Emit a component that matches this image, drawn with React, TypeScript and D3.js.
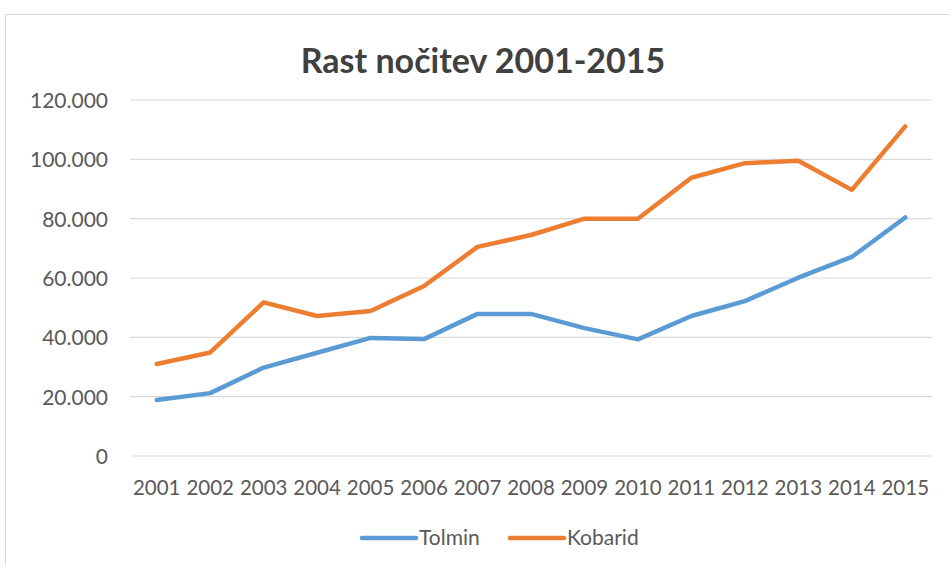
import React, { useEffect, useRef } from 'react';
import * as d3 from 'd3';

const years = ['2001', '2002', '2003', '2004', '2005', '2006', '2007', '2008', '2009', '2010', '2011', '2012', '2013', '2014', '2015'];
const tolmin = [18900, 21200, 29800, 34800, 39800, 39400, 47900, 47900, 43100, 39300, 47200, 52200, 60100, 67100, 80400];
const kobarid = [31000, 34900, 51800, 47200, 48900, 57300, 70500, 74500, 80000, 80000, 93800, 98700, 99500, 89700, 111100];
const seriesNames = ['Tolmin', 'Kobarid'];
const colors = ['#5B9BD5', '#ED7D31'];
const yTicks = [0, 20000, 40000, 60000, 80000, 100000, 120000];

const App = () => {
  const svgRef = useRef<SVGSVGElement>(null);

  useEffect(() => {
    const width = 949;
    const height = 565;
    const svg = d3.select(svgRef.current);
    svg.selectAll('*').remove();

    const font = 'Lato, "Open Sans", sans-serif';
    const textColor = '#595959';

    svg.append('rect').attr('width', width).attr('height', height).attr('fill', '#fff');
    // chart border
    svg.append('rect')
      .attr('x', 5.5).attr('y', 14.5)
      .attr('width', width + 10).attr('height', height + 10)
      .attr('fill', 'none').attr('stroke', '#d9d9d9');

    const x = d3.scaleBand().domain(years).range([130, 932]);
    const y = d3.scaleLinear().domain([0, 120000]).range([456, 100]);

    svg.append('text')
      .attr('x', 483).attr('y', 73)
      .attr('text-anchor', 'middle')
      .attr('font-family', font).attr('font-weight', 'bold')
      .attr('font-size', 34).attr('fill', '#404040')
      .text('Rast nočitev 2001-2015');

    // gridlines + y labels
    const fmt = (v: number) => (v === 0 ? '0' : d3.format(',')(v).replace(/,/g, '.'));
    yTicks.forEach(t => {
      svg.append('line')
        .attr('x1', 130).attr('x2', 932)
        .attr('y1', y(t)).attr('y2', y(t))
        .attr('stroke', '#d9d9d9').attr('stroke-width', 1.2);
      svg.append('text')
        .attr('x', 108).attr('y', y(t) + 8)
        .attr('text-anchor', 'end')
        .attr('font-family', font).attr('font-size', 21)
        .attr('fill', textColor)
        .text(fmt(t));
    });

    years.forEach(yr => {
      svg.append('text')
        .attr('x', x(yr)! + x.bandwidth() / 2).attr('y', 495)
        .attr('text-anchor', 'middle')
        .attr('font-family', font).attr('font-size', 20.5)
        .attr('fill', textColor)
        .text(yr);
    });

    const line = d3.line<number>()
      .x((d, i) => x(years[i])! + x.bandwidth() / 2)
      .y(d => y(d));

    [tolmin, kobarid].forEach((data, i) => {
      svg.append('path')
        .datum(data)
        .attr('d', line)
        .attr('fill', 'none')
        .attr('stroke', colors[i])
        .attr('stroke-width', 4.5)
        .attr('stroke-linejoin', 'round')
        .attr('stroke-linecap', 'round');
    });

    // legend
    const legendX = [362, 510];
    seriesNames.forEach((name, i) => {
      svg.append('line')
        .attr('x1', legendX[i]).attr('x2', legendX[i] + 54)
        .attr('y1', 538).attr('y2', 538)
        .attr('stroke', colors[i]).attr('stroke-width', 4.5)
        .attr('stroke-linecap', 'round');
      svg.append('text')
        .attr('x', legendX[i] + 57).attr('y', 544.5)
        .attr('font-family', font).attr('font-size', 21)
        .attr('fill', textColor)
        .text(name);
    });
  }, []);

  return (
    <svg
      ref={svgRef}
      width={949}
      height={565}
      style={{ position: 'absolute', left: 0, top: 0, display: 'block' }}
    />
  );
};

export default App;
